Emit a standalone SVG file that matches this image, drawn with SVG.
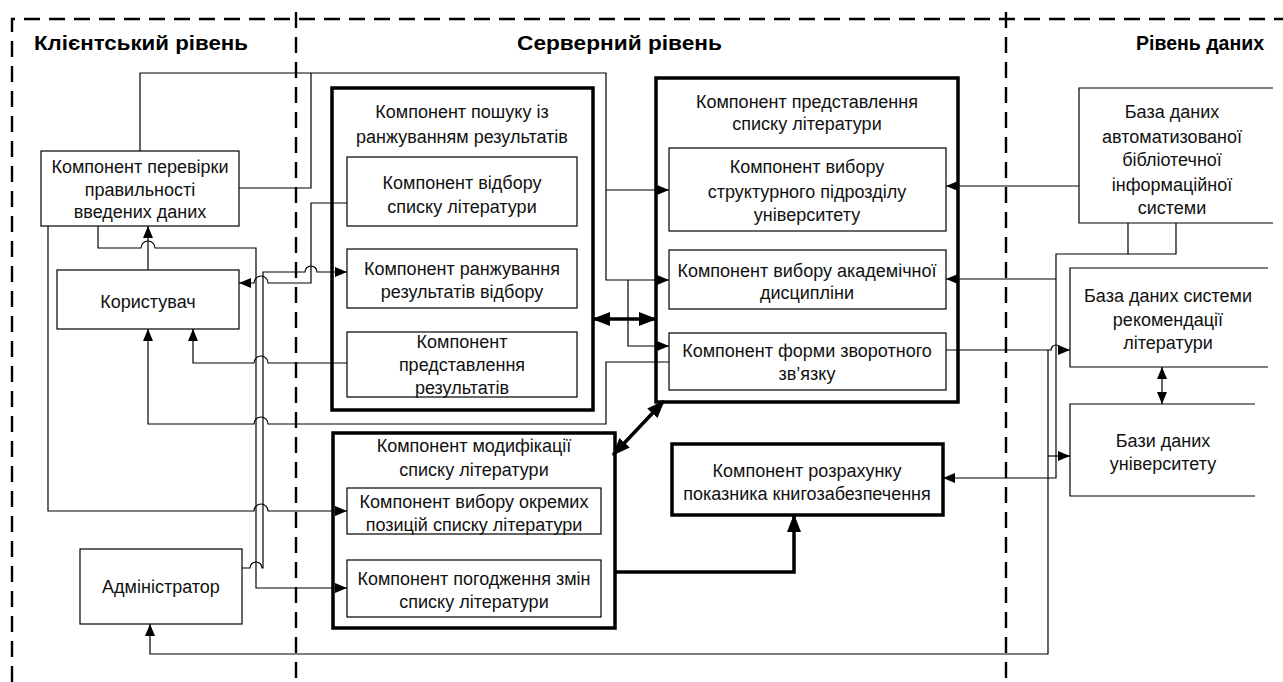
<svg xmlns="http://www.w3.org/2000/svg" width="1283" height="682" viewBox="0 0 1283 682">
<defs>
<style>
.lane{fill:none;stroke:#000;stroke-width:2.4;stroke-dasharray:16 9}
.box{fill:#fff;stroke:#000;stroke-width:1.2}
.tbox{fill:#fff;stroke:#000;stroke-width:3.5}
.open{fill:none;stroke:#000;stroke-width:1.2}
.t{font-family:"Liberation Sans",Arial,sans-serif;font-size:18px;fill:#111;text-anchor:middle}
.h{font-family:"Liberation Sans",Arial,sans-serif;font-size:20px;font-weight:bold;fill:#000}
.c{fill:none;stroke:#000;stroke-width:1.2}
.ck{fill:none;stroke:#000;stroke-width:3.5}
</style>
<marker id="a" viewBox="0 0 12 10" refX="12" refY="5" markerWidth="12" markerHeight="10" markerUnits="userSpaceOnUse" orient="auto-start-reverse"><path d="M0,0 L12,5 L0,10 z" fill="#000"/></marker>
<marker id="ak" viewBox="0 0 18 14" refX="17" refY="7" markerWidth="18" markerHeight="14" markerUnits="userSpaceOnUse" orient="auto-start-reverse"><path d="M0,0 L18,7 L0,14 z" fill="#000"/></marker>
</defs>
<rect width="1283" height="682" fill="#fff"/>
<g id="lanes">
<path class="lane" d="M12,682 V19 H1283"/>
<path class="lane" d="M296,12 V682"/>
<path class="lane" d="M1006,12 V682"/>
<text class="h" x="34" y="50" textLength="214" lengthAdjust="spacingAndGlyphs">Клієнтський рівень</text>
<text class="h" x="517" y="50" textLength="205" lengthAdjust="spacingAndGlyphs">Серверний рівень</text>
<text class="h" x="1136" y="50" textLength="128" lengthAdjust="spacingAndGlyphs">Рівень даних</text>
</g>
<g id="n-check"><rect class="box" x="41" y="151" width="198" height="75"/>
<text class="t" x="140" y="173">Компонент перевірки</text><text class="t" x="140" y="196">правильності</text><text class="t" x="140" y="218">введених даних</text></g>
<g id="n-user"><rect class="box" x="57" y="270" width="182" height="59"/><text class="t" x="148" y="308">Користувач</text></g>
<g id="n-admin"><rect class="box" x="80" y="549" width="162" height="75"/><text class="t" x="161" y="593">Адміністратор</text></g>
<g id="n-search"><rect class="tbox" x="332" y="88" width="261" height="322"/>
<text class="t" x="462" y="118">Компонент пошуку із</text><text class="t" x="462" y="143">ранжуванням результатів</text></g>
<g id="n-select"><rect class="box" x="347" y="157" width="230" height="69"/>
<text class="t" x="462" y="189">Компонент відбору</text><text class="t" x="462" y="213">списку літератури</text></g>
<g id="n-rank"><rect class="box" x="347" y="249" width="230" height="59"/>
<text class="t" x="462" y="275">Компонент ранжування</text><text class="t" x="462" y="298">результатів відбору</text></g>
<g id="n-present"><rect class="box" x="347" y="332" width="230" height="65"/>
<text class="t" x="462" y="348">Компонент</text><text class="t" x="462" y="371">представлення</text><text class="t" x="462" y="394">результатів</text></g>
<g id="n-rep"><rect class="tbox" x="656" y="78" width="302" height="324"/>
<text class="t" x="807" y="108">Компонент представлення</text><text class="t" x="807" y="130">списку літератури</text></g>
<g id="n-unit"><rect class="box" x="669" y="148" width="277" height="83"/>
<text class="t" x="807" y="173">Компонент вибору</text><text class="t" x="807" y="198">структурного підрозділу</text><text class="t" x="807" y="221">університету</text></g>
<g id="n-disc"><rect class="box" x="669" y="250" width="277" height="59"/>
<text class="t" x="807" y="277">Компонент вибору академічної</text><text class="t" x="807" y="299">дисципліни</text></g>
<g id="n-feedback"><rect class="box" x="669" y="333" width="277" height="57"/>
<text class="t" x="807" y="357">Компонент форми зворотного</text><text class="t" x="807" y="380">зв’язку</text></g>
<g id="n-mod"><rect class="tbox" x="333" y="433" width="282" height="195"/>
<text class="t" x="474" y="452">Компонент модифікації</text><text class="t" x="474" y="476">списку літератури</text></g>
<g id="n-items"><rect class="box" x="347" y="488" width="254" height="46"/>
<text class="t" x="474" y="508">Компонент вибору окремих</text><text class="t" x="474" y="531">позицій списку літератури</text></g>
<g id="n-agree"><rect class="box" x="347" y="560" width="254" height="57"/>
<text class="t" x="474" y="585">Компонент погодження змін</text><text class="t" x="474" y="608">списку літератури</text></g>
<g id="n-calc"><rect class="tbox" x="672" y="444" width="271" height="71"/>
<text class="t" x="807" y="477">Компонент розрахунку</text><text class="t" x="807" y="500">показника книгозабезпечення</text></g>
<g id="n-db1"><path class="open" d="M1273,88 H1079 V223 H1273"/>
<text class="t" x="1172" y="118">База даних</text><text class="t" x="1172" y="143">автоматизованої</text><text class="t" x="1172" y="166">бібліотечної</text><text class="t" x="1172" y="191">інформаційної</text><text class="t" x="1172" y="214">системи</text></g>
<g id="n-db2"><path class="open" d="M1268,268 H1070 V367 H1268"/>
<text class="t" x="1168" y="302">База даних системи</text><text class="t" x="1168" y="326">рекомендації</text><text class="t" x="1168" y="349">літератури</text></g>
<g id="n-db3"><path class="open" d="M1255,404 H1070 V496 H1255"/>
<text class="t" x="1163" y="447">Бази даних</text><text class="t" x="1163" y="470">університету</text></g>
<g id="connectors">
<path class="c" d="M140,151 V73 H606 V280 H669" marker-end="url(#a)"/>
<path class="c" d="M239,188 H311 V73"/>
<path class="c" d="M606,190 H669" marker-end="url(#a)"/>
<path class="c" d="M628,280 V346 H669" marker-end="url(#a)"/>
<path class="c" d="M347,203 H311 V283 H268 A7,7 0 0 0 254,283 H239" marker-end="url(#a)"/>
<path class="c" d="M347,363 H268 A7,7 0 0 0 254,363 H193 V329" marker-end="url(#a)"/>
<path class="c" d="M669,362 H606 V424 H268 A7,7 0 0 0 254,424 H148 V329" marker-end="url(#a)"/>
<path class="c" d="M148,270 V226" marker-end="url(#a)"/>
<path class="c" d="M98,226 V248 H141 A7,7 0 0 1 155,248 H256 V588 H347" marker-end="url(#a)"/>
<path class="c" d="M242,568 H250 A6,6 0 0 1 262,568 H263 V272 H305 A6,6 0 0 1 317,272 H347" marker-end="url(#a)"/>
<path class="c" d="M48,226 V511 H254 A7,7 0 0 1 268,511 H347" marker-end="url(#a)"/>
<path class="ck" d="M593,319 H656" marker-start="url(#ak)" marker-end="url(#ak)"/>
<path class="ck" d="M613,455 L664,401" marker-start="url(#ak)" marker-end="url(#ak)"/>
<path class="ck" d="M615,572 H794 V515" marker-end="url(#ak)"/>
<path class="c" d="M1079,186 H946" marker-end="url(#a)"/>
<path class="c" d="M1128,223 V254 H1056 V478 H943" marker-end="url(#a)"/>
<path class="c" d="M1176,223 V254 H1128"/>
<path class="c" d="M1056,279 H946" marker-end="url(#a)"/>
<path class="c" d="M946,350 H1051 A5,5 0 0 1 1061,350 H1070" marker-end="url(#a)"/>
<path class="c" d="M1048,350 V654 H150 V624" marker-end="url(#a)"/>
<path class="c" d="M1048,456 H1070" marker-end="url(#a)"/>
<path class="c" d="M1162,367 V404" marker-start="url(#a)" marker-end="url(#a)"/>
</g>
</svg>
